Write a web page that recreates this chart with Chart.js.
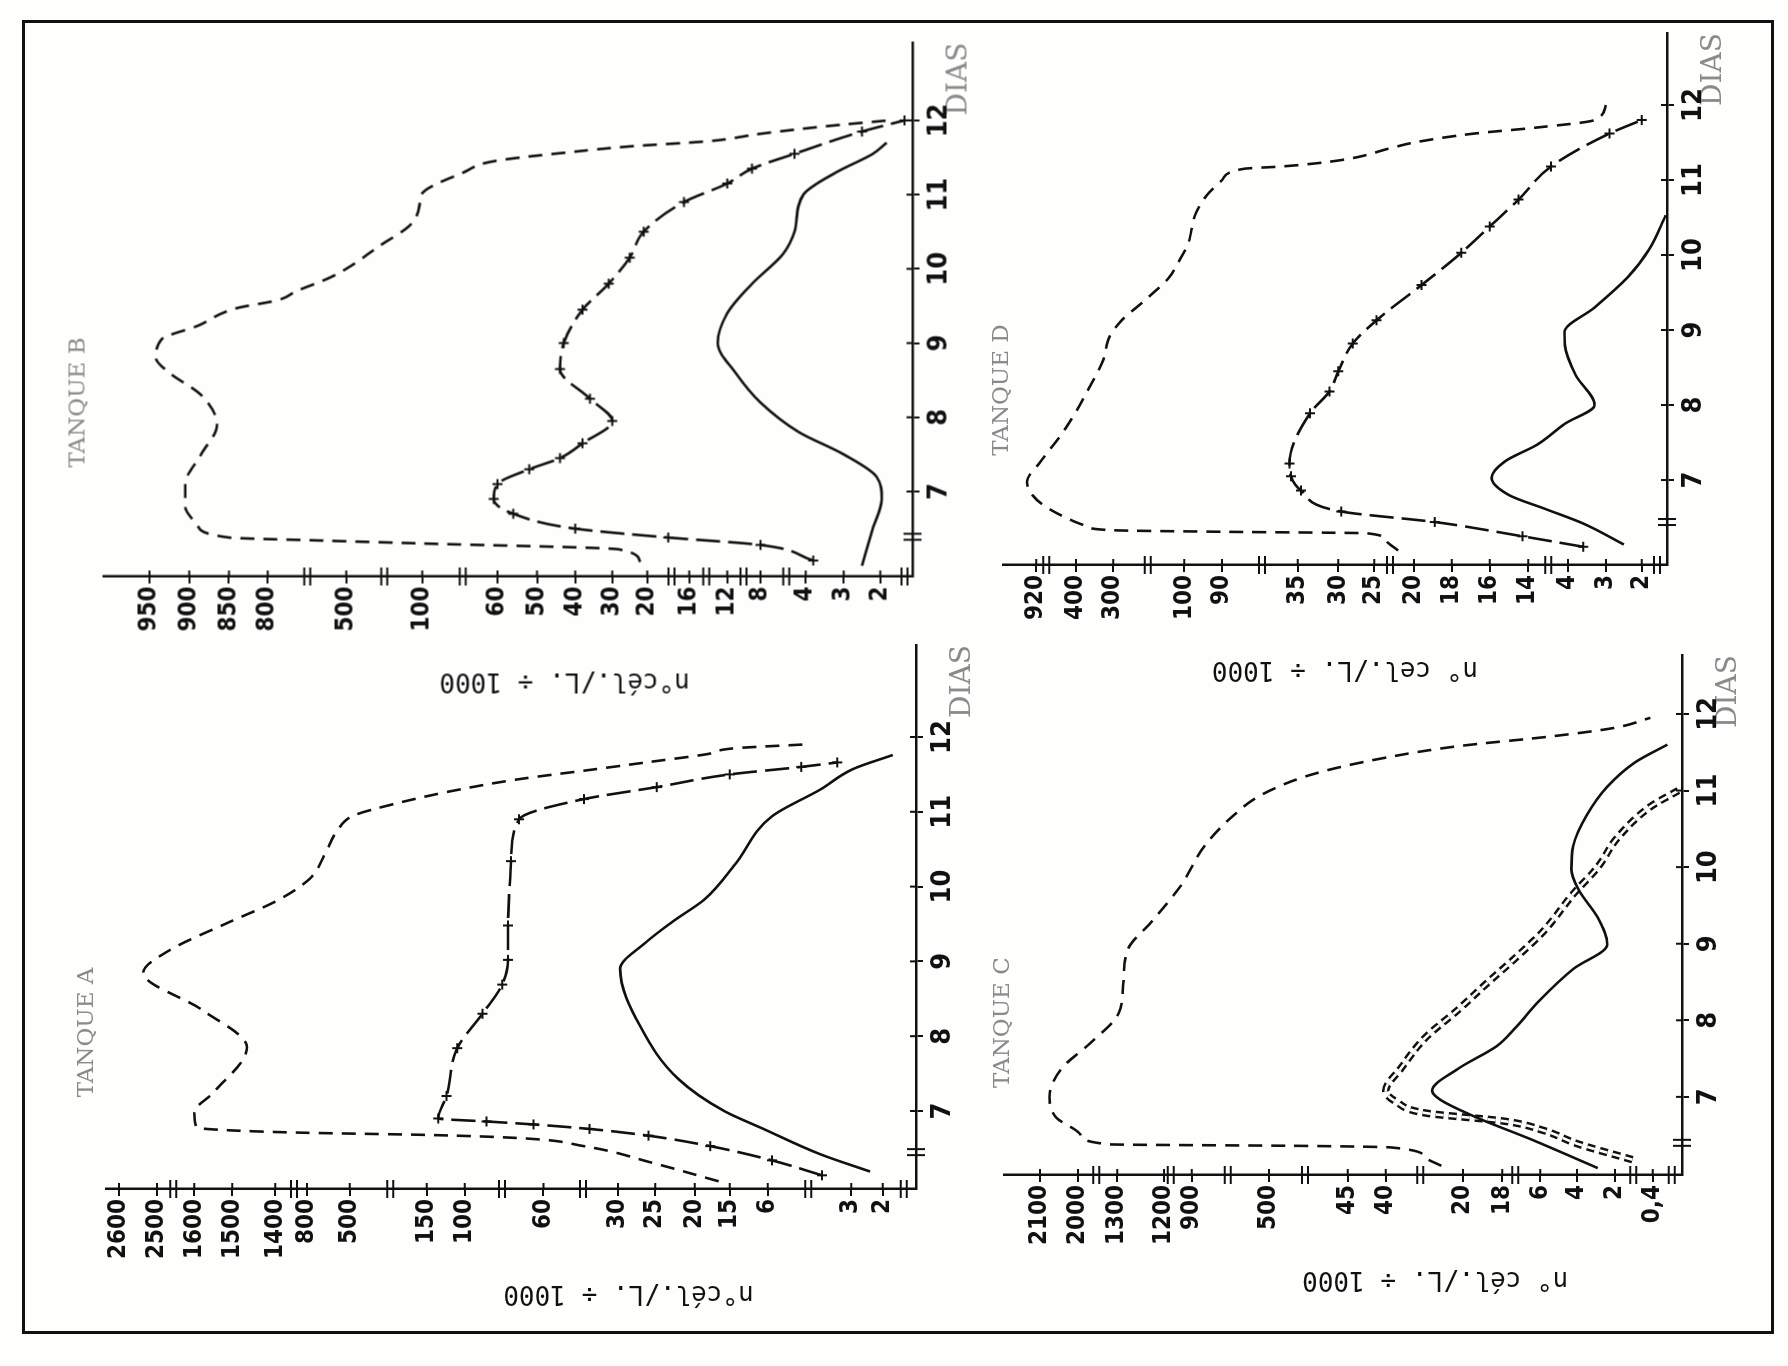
<!DOCTYPE html>
<html>
<head>
<meta charset="utf-8">
<script src="https://cdn.jsdelivr.net/npm/chart.js@4.4.0/dist/chart.umd.min.js"></script>
<style>
body{margin:0;background:#fefefd;width:1788px;height:1366px;overflow:hidden;position:relative;}
#frame{position:absolute;left:22px;top:20px;width:1752px;height:1314px;border:3px solid #111;box-sizing:border-box;}
canvas{position:absolute;transform:rotate(-90deg);transform-origin:50% 50%;}
</style>
</head>
<body>
<div id="frame"></div>
<script>
// days on the horizontal axis of every tank
let dayTicks = [7,8,9,10,11,12];

// TANQUE A  (n. cel./L / 1000)
let ticksA = [2,3,6,15,20,25,30,60,100,150,500,800,1400,1500,1600,2500,2600];
let dashA = [[6.06,16.6],[6.31,25.5],[6.53,43.7],[6.64,74],[6.68,150],[6.71,900],[6.74,1500],[6.78,1594],[6.98,1602],[7.25,1549],[7.85,1466],[8.35,1579],[8.85,2536],[9.14,2226],[9.53,1506],[9.8,1400],[10.1,783],[10.45,670],[10.74,590],[10.95,482],[11.1,305],[11.27,121],[11.43,74],[11.57,39],[11.67,25.5],[11.77,18.3],[11.85,13.7],[11.9,4.7]];
let crossA = [[6.14,4.05],[6.34,5.85],[6.53,17.8],[6.67,25.9],[6.76,41.4],[6.82,65],[6.86,89],[6.9,135],[7.2,124],[7.84,110],[8.3,91],[8.69,81],[9.02,78],[9.48,78],[10.34,76.5],[10.9,72.4],[11.17,43.7],[11.33,24.8],[11.5,15],[11.6,4.8],[11.66,3.5]];
let solidA = [[6.19,2.4],[6.42,4.1],[6.76,7],[7.0,15.8],[7.42,22],[8.13,27],[8.9,29.7],[9.25,26.3],[9.54,22.7],[9.83,18.6],[10.3,13.7],[10.94,5.85],[11.3,4.1],[11.57,2.95],[11.76,1.4]];

// TANQUE B
let ticksB = [2,3,4,8,12,16,20,30,40,50,60,100,500,800,850,900,950];
let dashB = [[6.05,22],[6.22,28],[6.3,100],[6.34,600],[6.38,850],[6.55,890],[6.8,905],[7.1,905],[7.5,885],[7.9,865],[8.3,885],[8.6,925],[8.8,942],[9.05,935],[9.23,890],[9.47,840],[9.58,760],[9.7,690],[9.87,570],[10.0,500],[10.3,330],[10.6,160],[10.85,115],[11.0,105],[11.3,78],[11.45,62],[11.58,40],[11.65,25],[11.72,14],[11.82,8],[11.92,3.5],[12.0,1.5]];
let crossB = [[6.07,3.8],[6.28,8],[6.38,18],[6.5,40],[6.7,56],[6.9,62],[7.1,60],[7.3,52],[7.45,44],[7.65,38],[7.95,30],[8.25,36],[8.65,44],[9.0,43],[9.45,38],[9.8,31],[10.15,25],[10.5,21],[10.9,16.5],[11.15,12],[11.35,9],[11.55,5],[11.85,2.5],[12.0,0.5]];
let solidB = [[6.0,2.5],[6.5,2.2],[6.9,1.9],[7.2,2.1],[7.5,3],[7.8,4.6],[8.2,8],[8.6,11],[9.0,13],[9.4,12],[9.8,9],[10.2,6],[10.5,5],[11.0,4.2],[11.3,3.2],[11.55,2.2],[11.7,1.6]];

// TANQUE C
let ticksC = [0.4,2,4,6,18,20,40,45,500,900,1200,1300,2000,2100];
let dashC = [[6.1,25.6],[6.21,29.8],[6.34,38.6],[6.36,300],[6.38,1445],[6.5,1950],[6.73,2057],[7.0,2075],[7.37,2043],[7.7,1783],[8.09,1297],[8.48,1287],[8.93,1277],[9.29,1226],[9.76,1017],[10.28,833],[10.67,686],[10.95,535],[11.22,237],[11.43,40],[11.58,21.2],[11.71,5.3],[11.82,2],[11.95,0.5]];
let doubleC = [[6.18,1.26],[6.39,4],[6.56,5.8],[6.68,16.9],[6.79,29.8],[6.94,37.4],[7.08,40],[7.37,36.1],[7.77,29.8],[8.14,21.2],[8.48,18.8],[8.82,13.7],[9.17,5.8],[9.65,4.2],[10.0,2.9],[10.38,1.9],[10.79,0.5],[11.0,0.05]];
let solidC = [[6.07,2.9],[6.45,9.2],[6.73,19.3],[6.97,26.1],[7.08,28],[7.37,21.2],[7.66,18.3],[7.91,13.7],[8.26,6.2],[8.67,4.2],[8.99,2.4],[9.34,2.9],[9.7,3.9],[9.97,4.3],[10.28,4.2],[10.67,3.5],[11.05,2.4],[11.37,1.14],[11.6,0.2]];

// TANQUE D
let ticksD = [2,3,4,14,16,18,20,25,30,35,90,100,300,400,920];
let dashD = [[6.06,22],[6.2,23.5],[6.29,26],[6.31,90],[6.33,300],[6.38,370],[6.45,430],[6.64,790],[6.8,970],[6.97,1040],[7.25,860],[7.58,610],[7.86,430],[8.18,370],[8.6,327],[8.92,309],[9.13,276],[9.4,210],[9.7,143],[9.9,117],[10.15,99],[10.55,97],[10.8,94],[11.0,90],[11.15,74],[11.18,47],[11.26,30],[11.44,22.4],[11.5,20],[11.62,16.8],[11.7,11.8],[11.8,3.3],[12.0,3.0]];
let crossD = [[6.11,3.6],[6.25,14.3],[6.44,18.9],[6.58,29.6],[6.86,34.6],[7.05,40],[7.22,41],[7.89,33.5],[8.18,31.1],[8.45,30],[8.82,28],[9.13,24.7],[9.6,19.6],[10.03,17.5],[10.38,16],[10.74,14.5],[11.18,8.3],[11.62,2.9],[11.8,2.0]];
let solidD = [[6.14,2.5],[6.42,3.6],[6.61,9.5],[6.8,15],[7.03,15.9],[7.25,15.2],[7.47,11.8],[7.75,4.8],[8.0,3.3],[8.4,3.8],[8.8,4.8],[8.97,4.9],[9.3,3.3],[9.7,2.4],[10.08,1.4],[10.53,0.1]];

// broken value axes: where each tick sits along the axis (percent of its length) and where the "||" breaks are
let scaleA = {pos:[4.1,8.0,18.3,23.0,27.3,32.2,36.8,46.0,55.7,60.4,69.9,75.2,79.1,84.4,89.1,93.7,98.4], brk:[1.5,13.3,41.1,51.1,64.9,76.8,91.7]};
let scaleB = {pos:[4.0,8.5,13.2,18.8,22.9,27.6,32.8,37.1,41.7,46.4,51.3,60.6,70.0,79.7,84.5,89.4,94.3], brk:[1.0,15.6,20.9,25.5,29.8,55.6,65.3,74.8]};
let scaleC = {pos:[4.3,9.9,15.5,20.9,26.5,32.3,43.7,49.3,60.9,72.3,76.4,83.3,89.1,94.7], brk:[1.5,7.2,24.6,38.6,55.6,67.0,75.4,86.4]};
let scaleD = {pos:[3.8,9.2,14.9,20.9,26.7,32.4,38.1,44.1,49.5,55.6,67.0,72.7,83.4,89.0,95.0], brk:[1.5,17.9,41.7,61.0,78.2,93.5]};

// page layout of each panel (the picture is turned a quarter turn)
let panels = [
 {name:"TANQUE A", ticks:ticksA, sc:scaleA, dash:dashA, cross:crossA, solid:solidA, ax:916, ye:106, ay:1189, top:645, dmin:5.957, dmax:13.23, xBrk:6.45, titleDay:8.05, titleGap:19, yTitleAt:0.355, yLabel:"n°cél./L. ÷ 1000"},
 {name:"TANQUE B", ticks:ticksB, sc:scaleB, dash:dashB, cross:crossB, solid:solidB, ax:912, ye:103, ay:576, top:42, dmin:5.855, dmax:13.05, xBrk:6.39, titleDay:8.2, titleGap:25, yTitleAt:0.43, yLabel:"n°cél./L. ÷ 1000"},
 {name:"TANQUE C", ticks:ticksC, sc:scaleC, dash:dashC, dbl:doubleC, solid:solidC, ax:1682, ye:1004, ay:1175, top:655, dmin:5.98, dmax:12.77, xBrk:6.4, titleDay:7.97, titleGap:1, yTitleAt:0.364, yLabel:"n° cél./L. ÷ 1000"},
 {name:"TANQUE D", ticks:ticksD, sc:scaleD, dash:dashD, cross:crossD, solid:solidD, ax:1667, ye:1003, ay:565, top:33, dmin:5.867, dmax:12.96, xBrk:6.44, titleDay:8.2, titleGap:1, yTitleAt:0.485, yLabel:"n° cel./L. ÷ 1000"}
];

let INK = "#111";
let NUM_FONT = "'DejaVu Sans Condensed','Liberation Sans Narrow','DejaVu Sans',sans-serif";
let TYPE_FONT = "'DejaVu Serif','Liberation Serif',serif";
let MONO_FONT = "'DejaVu Sans Mono','Liberation Mono',monospace";

function toPos(ticks, pos, v){
  let t = [0].concat(ticks), p = [0].concat(pos);
  for(let i = 1; i < t.length; i++){
    if(v <= t[i]) return p[i-1] + (p[i]-p[i-1]) * (v - t[i-1]) / (t[i] - t[i-1]);
  }
  let n = t.length - 1;
  return p[n] + (p[n]-p[n-1]) * (v - t[n]) / (t[n] - t[n-1]);
}

let axisDefs = {};

class BrokenScale extends Chart.LinearScale {
  determineDataLimits(){ this.min = 0; this.max = 100; }
  buildTicks(){ return axisDefs[this.chart.canvas.id].ticks.map(v => ({value:v})); }
  getPixelForValue(v){
    let d = axisDefs[this.chart.canvas.id];
    return super.getPixelForValue(toPos(d.ticks, d.sc.pos, v));
  }
}
BrokenScale.id = "broken";
BrokenScale.defaults = Chart.LinearScale.defaults;
Chart.register(BrokenScale);

function pts(arr){ return arr.map(a => ({x:a[0], y:a[1]})); }

function line(arr, dash, extra){
  return Object.assign({
    data: pts(arr), borderColor: INK, borderWidth: 2.6, borderDash: dash,
    pointRadius: 0, cubicInterpolationMode: "monotone", fill: false
  }, extra || {});
}

function decor(p){
  return {
    id: "decor",
    afterDraw(chart){
      let ctx = chart.ctx, a = chart.chartArea;
      let x = chart.scales.x, y = chart.scales.y;
      ctx.save();
      ctx.strokeStyle = INK;
      ctx.lineWidth = 2;
      // inner half of tick marks
      ctx.beginPath();
      p.ticks.forEach(v => { let py = y.getPixelForValue(v); ctx.moveTo(a.left, py); ctx.lineTo(a.left + 6, py); });
      dayTicks.forEach(d => { let px = x.getPixelForValue(d); ctx.moveTo(px, a.bottom); ctx.lineTo(px, a.bottom - 6); });
      ctx.stroke();
      // axis breaks
      ctx.beginPath();
      p.sc.brk.forEach(b => {
        let py = y.getPixelForDecimal(b / 100);
        [-3, 3].forEach(o => { ctx.moveTo(a.left - 9, py + o); ctx.lineTo(a.left + 9, py + o); });
      });
      let bx = x.getPixelForValue(p.xBrk);
      [-3, 3].forEach(o => { ctx.moveTo(bx + o, a.bottom - 9); ctx.lineTo(bx + o, a.bottom + 9); });
      ctx.stroke();
      // tank name
      ctx.fillStyle = "#8a8a8a";
      ctx.font = "23px " + TYPE_FONT;
      ctx.textAlign = "center";
      ctx.textBaseline = "middle";
      ctx.fillText(p.name, x.getPixelForValue(p.titleDay), a.top - p.titleGap);
      // value axis title
      ctx.fillStyle = INK;
      ctx.font = "26px " + MONO_FONT;
      ctx.translate(a.left - 104, y.getPixelForDecimal(p.yTitleAt));
      ctx.rotate(-Math.PI / 2);
      ctx.fillText(p.yLabel, 0, 0);
      ctx.restore();
    }
  };
}

panels.forEach((p, i) => {
  let L = p.ye - 60, R = p.ax + 70, T = p.top - 10, B = p.ay + 140;
  let cw = B - T, ch = R - L;
  let cv = document.createElement("canvas");
  cv.id = "tank" + i;
  cv.width = cw;
  cv.height = ch;
  cv.style.left = ((L + R) / 2 - cw / 2) + "px";
  cv.style.top = ((T + B) / 2 - ch / 2) + "px";
  document.body.appendChild(cv);
  axisDefs[cv.id] = p;

  let sets = [];
  sets.push(line(p.solid, [], {order: 0}));
  if(p.cross){
    sets.push(line(p.cross, [24, 8], {order: 1, pointRadius: 5, pointStyle: "cross", pointBorderColor: INK, pointBorderWidth: 2}));
  }
  sets.push(line(p.dash, [14, 9], {order: 2}));
  if(p.dbl){
    sets.push(line(p.dbl, [8, 5], {order: 4, borderWidth: 7.5}));
    sets.push(line(p.dbl, [8, 5], {order: 3, borderWidth: 2.6, borderColor: "#fefefd"}));
  }

  new Chart(cv, {
    type: "line",
    data: {datasets: sets},
    options: {
      responsive: false,
      animation: false,
      events: [],
      layout: {padding: {top: 60, right: 10, bottom: 0, left: 0}},
      plugins: {legend: {display: false}, tooltip: {enabled: false}},
      scales: {
        x: {
          type: "linear", min: p.dmin, max: p.dmax,
          afterFit: s => { s.height = 70; },
          afterBuildTicks: s => { s.ticks = dayTicks.map(v => ({value: v})); },
          border: {color: INK, width: 2.5},
          grid: {drawOnChartArea: false, color: INK, lineWidth: 2, tickLength: 7},
          ticks: {color: INK, autoSkip: false, maxRotation: 0, padding: 4, font: {family: NUM_FONT, size: 27, weight: "bold"}},
          title: {display: true, text: "DIAS", align: "end", color: "#8a8a8a", padding: {top: 0, bottom: 6}, font: {family: TYPE_FONT, size: 28}}
        },
        y: {
          type: "broken",
          afterFit: s => { s.width = 140; },
          border: {color: INK, width: 2.5},
          grid: {drawOnChartArea: false, color: INK, lineWidth: 2, tickLength: 7},
          ticks: {color: INK, autoSkip: false, padding: 3, font: {family: NUM_FONT, size: 24, weight: "bold"},
            callback: v => v === 0.4 ? "0,4" : String(v)}
        }
      }
    },
    plugins: [decor(p)]
  });
});
</script>
</body>
</html>
